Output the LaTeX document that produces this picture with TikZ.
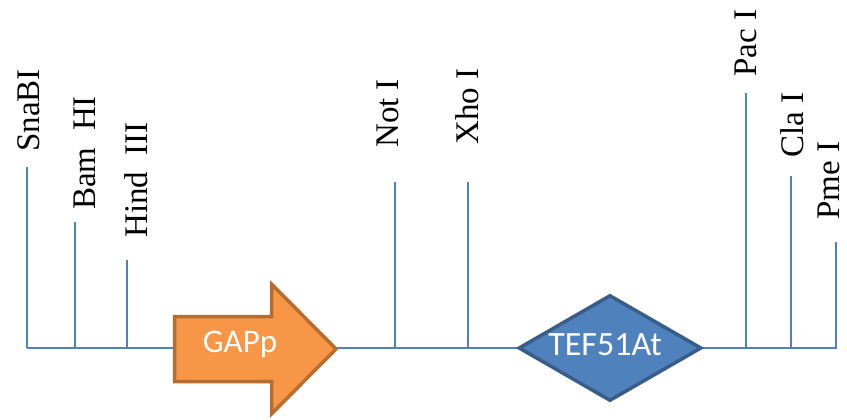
\documentclass[tikz,border=0pt]{standalone}
\usepackage{fontspec}
\setmainfont{Liberation Serif}
\newfontfamily\calibri{Carlito}
\usetikzlibrary{shapes.geometric}
\definecolor{vecblue}{HTML}{4F81BD}
\definecolor{vecedge}{HTML}{385D8A}
\definecolor{gaporange}{HTML}{F79646}
\definecolor{gapedge}{HTML}{B66D31}

\begin{document}
\begin{tikzpicture}[x=1pt,y=-1pt]
\tikzstyle{every node}+=[inner sep=0pt]
\tikzstyle{site}=[draw=vecblue,line width=1.9pt]
\tikzstyle{enzyme}=[rotate=90,anchor=base west,font=\fontsize{33}{33}\selectfont]
\tikzstyle{part}=[text=white,anchor=base,font=\calibri\fontsize{33}{33}\selectfont]
\useasboundingbox (0,0) rectangle (847,420);
\coordinate (start) at (27,348);
\coordinate (stop) at (837,348);
\draw [site] (start) -- (stop);
\coordinate (snab) at (27,348);
\coordinate (snabtop) at (27,167);
\draw [site] (snab) -- (snabtop);
\node [enzyme] (snablab) at (39,152) {SnaBI};
\coordinate (bam) at (75,348);
\coordinate (bamtop) at (75,222);
\draw [site] (bam) -- (bamtop);
\node [enzyme] (bamlab) at (95,210) {Bam~~HI};
\coordinate (hind) at (127,348);
\coordinate (hindtop) at (127,260);
\draw [site] (hind) -- (hindtop);
\node [enzyme] (hindlab) at (147,238) {Hind~~III};
\coordinate (not) at (395,348);
\coordinate (nottop) at (395,182);
\draw [site] (not) -- (nottop);
\node [enzyme] (notlab) at (398,148) {Not I};
\coordinate (xho) at (468,348);
\coordinate (xhotop) at (468,182);
\draw [site] (xho) -- (xhotop);
\node [enzyme] (xholab) at (478,145) {Xho I};
\coordinate (pac) at (746,348);
\coordinate (pactop) at (746,93);
\draw [site] (pac) -- (pactop);
\node [enzyme] (paclab) at (756,77) {Pac I};
\coordinate (cla) at (791,348);
\coordinate (clatop) at (791,176);
\draw [site] (cla) -- (clatop);
\node [enzyme] (clalab) at (803,158) {Cla I};
\coordinate (pme) at (836,348);
\coordinate (pmetop) at (836,242);
\draw [site] (pme) -- (pmetop);
\node [enzyme] (pmelab) at (839,220) {Pme I};
\draw [fill=gaporange,draw=gapedge,line width=3.5pt,line join=miter] (174.5,316.5) -- (271.5,316.5) -- (271.5,284) -- (336,349) -- (271.5,414) -- (271.5,381.5) -- (174.5,381.5) -- cycle;
\node [part] (gap) at (240,352) {GAPp};
\node [diamond,fill=vecblue,draw=vecedge,line width=3.5pt,minimum width=183pt,minimum height=106pt] (tef) at (610,348) {};
\node [part,font=\calibri\fontsize{34}{34}\selectfont] (teflab) at (605,355) {TEF51At};
\end{tikzpicture}
\end{document}
